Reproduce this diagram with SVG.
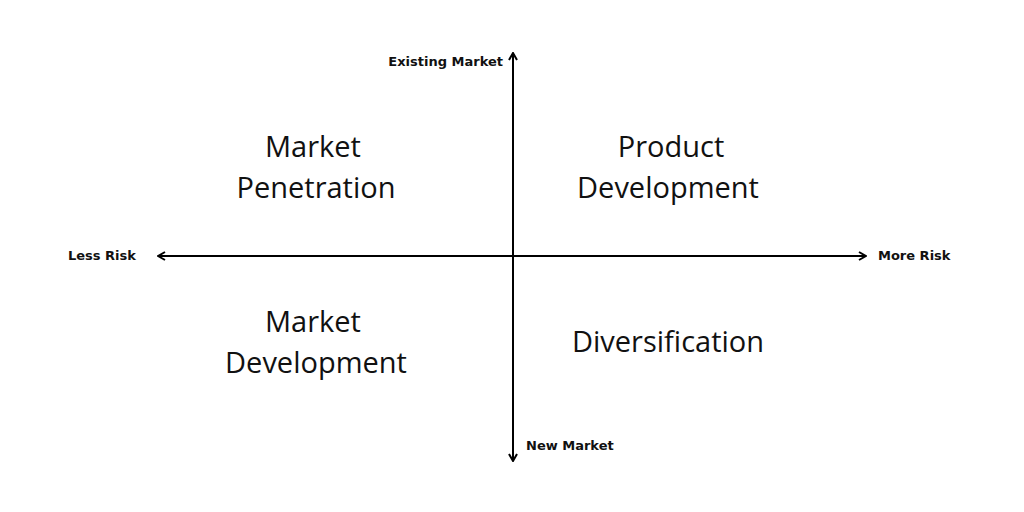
<svg xmlns="http://www.w3.org/2000/svg" width="1024" height="512" viewBox="0 0 1024 512">
<style>
.q{font-family:"Open Sans","Noto Sans",sans-serif;font-size:29px;fill:#111;text-anchor:middle}
.a{font-family:"DejaVu Sans","Lato",sans-serif;font-weight:700;font-size:13px;fill:#111}
.ax{stroke:#000;stroke-width:2;fill:none}
</style>
<defs>
<marker id="arr" viewBox="0 0 10 10" refX="9" refY="5" markerWidth="10" markerHeight="10" orient="auto-start-reverse" markerUnits="userSpaceOnUse">
<path d="M2,1 L9,5 L2,9" fill="none" stroke="#000" stroke-width="2"/>
</marker>
</defs>
<rect width="1024" height="512" fill="#fff"/>
<g id="connectors">
<line class="ax" x1="513" y1="461" x2="513" y2="53" marker-end="url(#arr)" marker-start="url(#arr)"/>
<line class="ax" x1="158" y1="256" x2="866" y2="256" marker-end="url(#arr)" marker-start="url(#arr)"/>
</g>
<g id="axis-existing"><text class="a" x="503" y="66" text-anchor="end">Existing Market</text></g>
<g id="axis-new"><text class="a" x="526" y="450">New Market</text></g>
<g id="axis-less"><text class="a" x="68" y="260">Less Risk</text></g>
<g id="axis-more"><text class="a" x="878" y="260">More Risk</text></g>
<g id="market-penetration"><text class="q" x="313" y="157">Market</text><text class="q" x="316" y="198">Penetration</text></g>
<g id="product-development"><text class="q" x="671" y="157">Product</text><text class="q" x="668" y="198">Development</text></g>
<g id="market-development"><text class="q" x="313" y="332">Market</text><text class="q" x="316" y="373">Development</text></g>
<g id="diversification"><text class="q" x="668" y="352">Diversification</text></g>
</svg>
